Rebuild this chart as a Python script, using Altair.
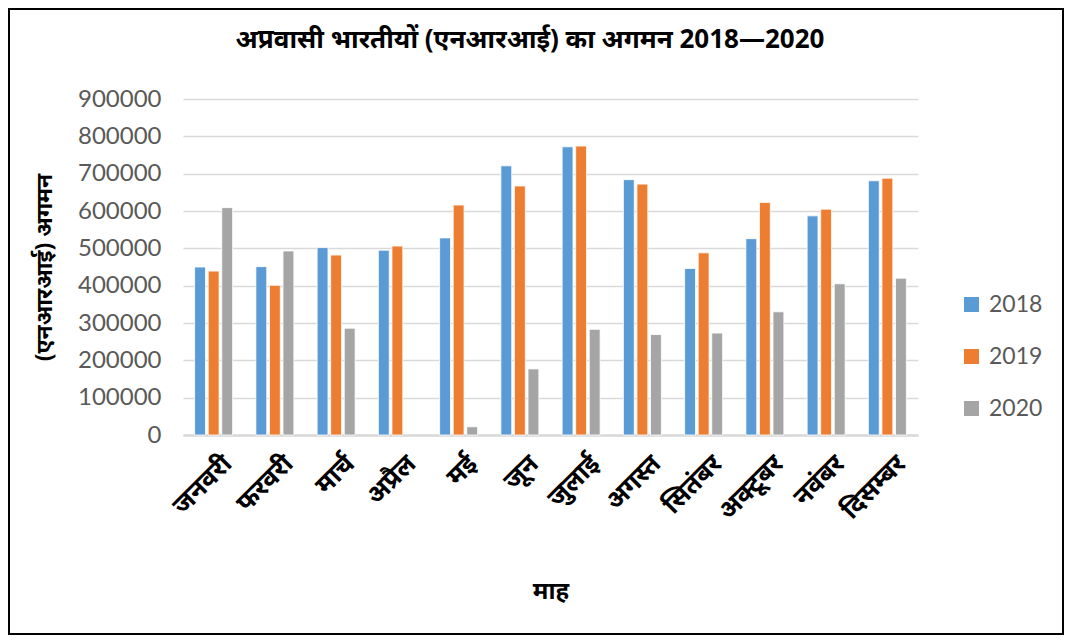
import altair as alt
import pandas as pd

months = ["जनवरी", "फरवरी", "मार्च", "अप्रैल", "मई", "जून",
          "जुलाई", "अगस्त", "सितंबर", "अक्टूबर", "नवंबर", "दिसम्बर"]
years = ["2018", "2019", "2020"]
v2018 = [450000, 451000, 502000, 495000, 528000, 721000, 772000, 684000, 446000, 526000, 587000, 681000]
v2019 = [439000, 401000, 482000, 506000, 616000, 667000, 774000, 672000, 488000, 623000, 605000, 688000]
v2020 = [609000, 493000, 286000, None, 22000, 177000, 283000, 269000, 273000, 330000, 405000, 420000]
colors = ["#5B9BD5", "#ED7D31", "#A5A5A5"]

title_text = "अप्रवासी भारतीयों (एनआरआई) का अगमन 2018—2020"
y_title = "(एनआरआई) अगमन"
x_title = "माह"

rows = []
for yr, vals in zip(years, [v2018, v2019, v2020]):
    for m, v in zip(months, vals):
        rows.append({"month": m, "year": yr, "value": v})
df = pd.DataFrame(rows)

NUM_FONT = "Lato"
DEV_FONT = "Noto Sans"

bars = alt.Chart(df).mark_bar(stroke="white", strokeWidth=0.8).encode(
    x=alt.X("month:N", sort=months,
            scale=alt.Scale(paddingInner=0.38, paddingOuter=0.19),
            axis=alt.Axis(title=x_title, labelAngle=-45, labelFont=DEV_FONT,
                          labelFontSize=26, labelColor="black", labelFontWeight="bold",
                          labelPadding=15, labelOffset=5, ticks=False, domainColor="#D9D9D9",
                          domainWidth=2.5, titleFont=DEV_FONT, titleFontSize=24,
                          titleFontWeight="bold", titleColor="black", titlePadding=55)),
    xOffset=alt.XOffset("year:N", sort=years, scale=alt.Scale(paddingInner=0.2)),
    y=alt.Y("value:Q", scale=alt.Scale(domain=[0, 900000]),
            axis=alt.Axis(title=y_title, values=list(range(0, 900001, 100000)),
                          format="d", labelFont=NUM_FONT, labelFontSize=24,
                          labelColor="#595959", labelPadding=22, ticks=False,
                          domain=False, gridColor="#D9D9D9", gridWidth=1.5,
                          titleFont=DEV_FONT, titleFontSize=23, titleFontWeight="bold",
                          titleColor="black", titlePadding=21)),
    color=alt.Color("year:N", sort=years,
                    scale=alt.Scale(domain=years, range=colors),
                    legend=alt.Legend(title=None, orient="none", legendX=777, legendY=194,
                                      symbolType="square", symbolSize=225,
                                      symbolStrokeWidth=0, labelFont=NUM_FONT,
                                      labelFontSize=23, labelColor="#595959",
                                      rowPadding=28, labelOffset=6)),
)

title = alt.Chart(pd.DataFrame({"t": [title_text]})).mark_text(
    font=DEV_FONT, fontSize=26, fontWeight="bold", color="black",
    align="center", baseline="middle", clip=False
).encode(text="t:N", x=alt.value(347), y=alt.value(-59))

border = alt.Chart(pd.DataFrame({"a": [0]})).mark_rect(
    filled=False, stroke="black", strokeWidth=2, clip=False
).encode(x=alt.value(-174), x2=alt.value(880), y=alt.value(-90), y2=alt.value(535))

chart = alt.layer(bars, title, border).properties(
    width=735, height=336,
    autosize=alt.AutoSizeParams(type="none"),
    padding={"left": 175, "top": 91, "right": 146, "bottom": 200},
).configure_view(stroke=None)

chart.save("out.html", embed_options={"renderer": "svg", "actions": False})
